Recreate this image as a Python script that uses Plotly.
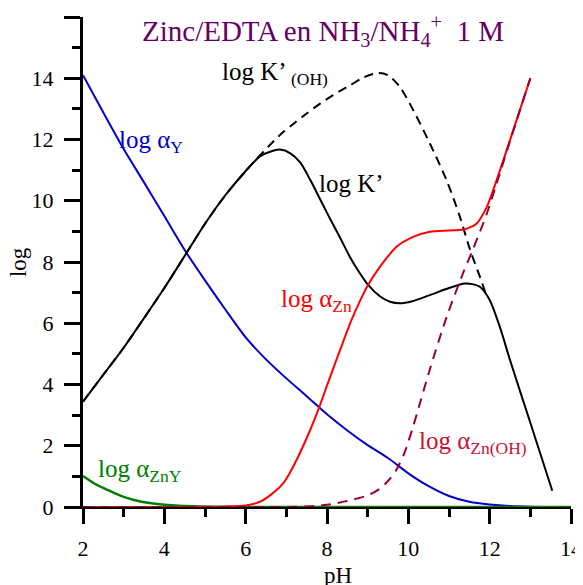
import plotly.graph_objects as go

# ---- data ----
ph_aY = [2, 2.5, 3, 3.5, 4, 4.5, 5, 5.5, 6, 6.5, 7, 7.5, 8, 8.5, 9, 9.5, 10, 10.5, 11, 11.5, 12, 12.5, 13, 14]
log_aY = [14.1, 12.88, 11.69, 10.6, 9.5, 8.39, 7.4, 6.45, 5.54, 4.82, 4.2, 3.62, 3.03, 2.5, 2.02, 1.6, 1.1, 0.68, 0.36, 0.17, 0.08, 0.03, 0.01, 0.0]

ph_aZnY = [2, 2.3, 2.62, 3.0, 3.44, 4.0, 4.5, 5.0, 6.0, 8.0, 10.0, 12.0, 14.0]
log_aZnY = [1.01, 0.75, 0.55, 0.33, 0.17, 0.07, 0.03, 0.01, 0.0, 0.0, 0.0, 0.0, 0.0]

ph_aZn = [2, 3, 4, 5, 5.5, 6, 6.35, 6.6, 6.92, 7.1, 7.29, 7.55, 7.8, 8.05, 8.32, 8.6, 8.8, 9.01, 9.3, 9.71,
          10.12, 10.53, 11.0, 11.35, 11.68, 11.93, 12.17, 12.5, 13.0]
log_aZn = [0.0, 0.0, 0.0, 0.01, 0.02, 0.05, 0.17, 0.38, 0.77, 1.15, 1.64, 2.4, 3.23, 4.15, 5.12, 6.1, 6.7, 7.25, 7.84, 8.5,
           8.82, 8.99, 9.03, 9.06, 9.26, 9.8, 10.67, 11.98, 14.0]

ph_aZnOH = [2, 4, 6, 7, 7.5, 8.0, 8.5, 9.0, 9.3, 9.5, 9.7, 9.9, 10.1, 10.3, 10.53, 10.94, 11.35, 11.6, 11.93, 12.17, 12.5, 13.0]
log_aZnOH = [0.0, 0.0, 0.0, 0.0, 0.02, 0.07, 0.2, 0.38, 0.6, 0.85, 1.2, 1.75, 2.55, 3.45, 4.5, 6.2, 7.65, 8.45, 9.58, 10.56, 11.95, 14.0]

ph_K = [2, 2.62, 3.0, 3.44, 4.0, 4.59, 5.0, 5.5, 5.98, 6.35, 6.6, 6.84, 7.1, 7.34, 7.6, 7.83, 8.1, 8.32, 8.57, 8.8,
        9.01, 9.3, 9.55, 9.79, 10.1, 10.53, 11.0, 11.39, 11.6, 11.76, 12.0, 12.25, 12.5, 13.0, 13.54]
log_K = [3.44, 4.53, 5.2, 6.05, 7.15, 8.39, 9.25, 10.18, 10.94, 11.45, 11.6, 11.67, 11.55, 11.25, 10.65, 10.05, 9.35, 8.8, 8.15, 7.65,
         7.25, 6.88, 6.7, 6.65, 6.72, 6.92, 7.15, 7.3, 7.27, 7.19, 6.76, 5.88, 4.8, 2.75, 0.53]

ph_KOH = [2, 2.62, 3.0, 3.44, 4.0, 4.59, 5.0, 5.5, 5.98, 6.35, 6.7, 6.93, 7.21, 7.5, 7.83, 8.15, 8.57, 8.89, 9.26, 9.5,
          9.79, 10.12, 10.53, 10.94, 11.27, 11.52, 11.76, 11.93]
log_KOH = [3.44, 4.53, 5.2, 6.05, 7.15, 8.39, 9.25, 10.18, 10.94, 11.48, 11.96, 12.25, 12.55, 12.85, 13.17, 13.45, 13.77, 14.02, 14.17, 14.1,
           13.72, 12.96, 11.87, 10.67, 9.47, 8.39, 7.52, 6.86]

x_ticks = [2, 4, 6, 8, 10, 12, 14]
y_ticks = [0, 2, 4, 6, 8, 10, 12, 14, 16]
y_ticktext = ["0", "2", "4", "6", "8", "10", "12", "14", ""]

# ---- styles ----
FONT = "Liberation Serif"
BLUE = "#0000CC"
GREEN = "#008000"
RED = "#FF0000"
DARKRED = "#990033"
LBLRED = "#CC1133"
PURPLE = "#660066"

fig = go.Figure()
common = dict(mode="lines", showlegend=False, cliponaxis=False, hoverinfo="skip")
fig.add_trace(go.Scatter(x=ph_aY, y=log_aY, line=dict(color=BLUE, width=2, shape="spline", smoothing=0.8), **common))
fig.add_trace(go.Scatter(x=ph_KOH, y=log_KOH, line=dict(color="black", width=2, dash="9px,6px", shape="spline", smoothing=0.8), **common))
fig.add_trace(go.Scatter(x=ph_K, y=log_K, line=dict(color="black", width=2, shape="spline", smoothing=0.8), **common))
fig.add_trace(go.Scatter(x=ph_aZnY, y=log_aZnY, line=dict(color=GREEN, width=2.5, shape="spline", smoothing=0.8), **common))
fig.add_trace(go.Scatter(x=ph_aZn, y=log_aZn, line=dict(color=RED, width=2, shape="spline", smoothing=0.8), **common))
fig.add_trace(go.Scatter(x=ph_aZnOH, y=log_aZnOH, line=dict(color=DARKRED, width=2, dash="10px,7px", shape="spline", smoothing=0.8), **common))

ann = []
def lab(x, y, text, color, size=25, xanchor="left"):
    ann.append(dict(x=x, y=y, xref="x", yref="y", text=text, showarrow=False,
                    font=dict(family=FONT, size=size, color=color), xanchor=xanchor, yanchor="middle"))

lab(7.9, 15.55, "Zinc/EDTA en NH<sub>3</sub>/NH<sub>4</sub><sup>+</sup>&nbsp; 1 M", PURPLE, size=29, xanchor="center")
lab(5.38, 14.15, "log K’ <sub>(OH)</sub>", "black")
lab(2.84, 11.95, "log α<sub>Y</sub>", BLUE)
lab(7.76, 10.55, "log K’", "black")
lab(6.82, 6.75, "log α<sub>Zn</sub>", RED)
lab(10.22, 2.1, "log α<sub>Zn(OH)</sub>", LBLRED)
lab(2.32, 1.2, "log α<sub>ZnY</sub>", GREEN)

ann.append(dict(x=0.523, y=-0.14, xref="paper", yref="paper", text="pH", showarrow=False,
                font=dict(family=FONT, size=23, color="black"), xanchor="center", yanchor="middle"))
ann.append(dict(x=-0.133, y=0.5, xref="paper", yref="paper", text="log", showarrow=False, textangle=-90,
                font=dict(family=FONT, size=23, color="black"), xanchor="center", yanchor="middle"))

fig.update_layout(
    width=583, height=585,
    margin=dict(l=75, r=20, t=9, b=86),
    paper_bgcolor="white", plot_bgcolor="white",
    font=dict(family=FONT),
    annotations=ann,
    xaxis=dict(range=[2, 14], tickvals=x_ticks, ticks="outside", ticklen=15, tickwidth=3, tickcolor="black",
               minor=dict(dtick=1, tick0=0, ticks="outside", ticklen=8, tickwidth=3, tickcolor="black"),
               showline=True, linewidth=2, linecolor="black", showgrid=False, zeroline=False,
               layer="below traces", ticklabelstandoff=6,
               tickfont=dict(family=FONT, size=22, color="black")),
    yaxis=dict(range=[0, 16], tickvals=y_ticks, ticktext=y_ticktext, ticks="outside", ticklen=16, tickwidth=3, tickcolor="black",
               minor=dict(dtick=1, tick0=0, ticks="outside", ticklen=8, tickwidth=3, tickcolor="black"),
               showline=True, linewidth=3, linecolor="black", showgrid=False, zeroline=False,
               layer="below traces", ticklabelstandoff=6,
               tickfont=dict(family=FONT, size=22, color="black")),
)

fig.write_html("out.html")
